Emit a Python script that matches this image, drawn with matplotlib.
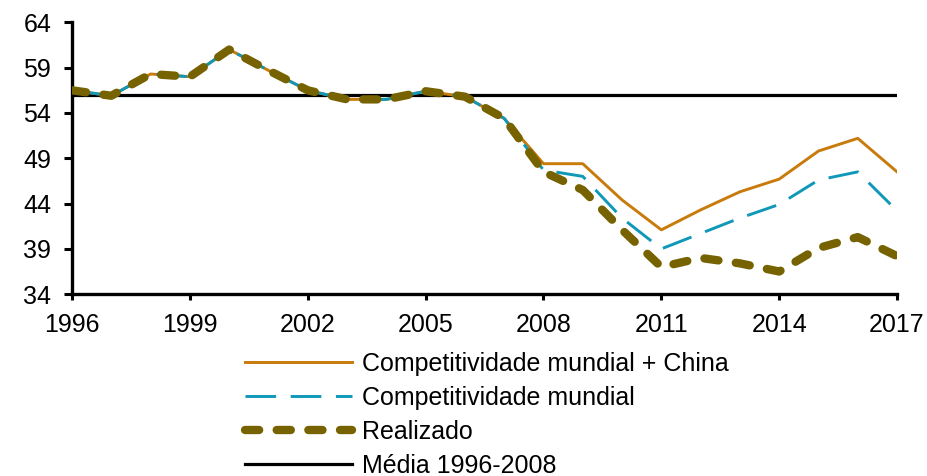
import matplotlib.pyplot as plt

plt.rcParams["font.family"] = ["Liberation Sans", "DejaVu Sans"]

years = list(range(1996, 2018))

# Competitividade mundial + China
china = [56.5, 55.9, 58.3, 58.0, 61.0, 58.7, 56.5, 55.5, 55.5, 56.4, 55.8, 53.4,
         48.4, 48.4, 44.4, 41.1, 43.3, 45.3, 46.7, 49.8, 51.2, 47.5]
# Competitividade mundial
mundial = [56.5, 55.9, 58.3, 58.0, 61.0, 58.7, 56.5, 55.5, 55.5, 56.4, 55.8, 53.4,
           47.7, 47.0, 42.4, 39.0, 40.7, 42.4, 43.9, 46.6, 47.5, 43.2]
# Realizado
realizado = [56.5, 55.9, 58.3, 58.0, 61.0, 58.7, 56.5, 55.5, 55.5, 56.4, 55.8, 53.4,
             47.5, 45.5, 41.1, 37.0, 38.0, 37.4, 36.5, 39.1, 40.3, 38.2]
media = 56.0

xticks = list(range(1996, 2018, 3))
yticks = list(range(34, 65, 5))

fig = plt.figure(figsize=(9.27, 4.76), dpi=100)
ax = fig.add_axes([0.0777, 0.382, 0.89, 0.571])

l_media = ax.axhline(media, color="black", lw=2.3, zorder=1)
l_china, = ax.plot(years, china, color="#C87A0A", lw=2.1, zorder=2)
l_mundial, = ax.plot(years, mundial, color="#0F98B8", lw=2.1,
                     dashes=(10.5, 5), zorder=3)
l_real, = ax.plot(years, realizado, color="#776200", lw=6.0,
                  dashes=(1.7, 2.1), dash_capstyle="round", zorder=4)

ax.set_xlim(1996, 2017)
ax.set_ylim(34, 64)
ax.set_xticks(xticks)
ax.set_yticks(yticks)
ax.tick_params(axis="x", direction="out", length=4, width=2.2, labelsize=18, pad=9.5)
ax.tick_params(axis="y", direction="out", length=6, width=2.2, labelsize=18, pad=9)

for side in ["top", "right"]:
    ax.spines[side].set_visible(False)
for side in ["left", "bottom"]:
    ax.spines[side].set_linewidth(2.4)

fig.legend([l_china, l_mundial, l_real, l_media],
           ["Competitividade mundial + China", "Competitividade mundial",
            "Realizado", "Média 1996-2008"],
           loc="upper left", bbox_to_anchor=(0.264, 0.26),
           frameon=False, fontsize=18, handlelength=4.3,
           handletextpad=0.4, labelspacing=0.4, borderpad=0, borderaxespad=0)

fig.savefig("out.png", dpi=100)
